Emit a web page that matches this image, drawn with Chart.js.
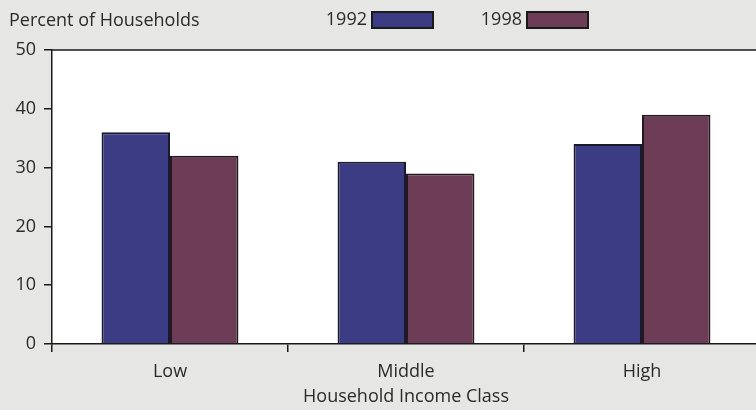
<!DOCTYPE html>
<html lang="en">
<head>
    <meta charset="UTF-8">
    <title>Household Income Class</title>
    <style>
        html, body {
            margin: 0;
            padding: 0;
            overflow: hidden;
            background-color: #e6e6e4;
        }
        #wrap {
            width: 766px;
            height: 410px;
        }
    </style>
    <script src="https://cdn.jsdelivr.net/npm/chart.js"></script>
</head>
<body>
    <div id="wrap"><canvas id="incomeChart" width="766" height="410"></canvas></div>
    <script>
        const categories = ['Low', 'Middle', 'High'];
        const values1992 = [36, 31, 34];
        const values1998 = [32, 29, 39];
        const seriesNames = ['1992', '1998'];
        const yTicks = [0, 10, 20, 30, 40, 50];

        const textColor = '#2a2a2a';
        const fontFamily = '"Open Sans", "DejaVu Sans", sans-serif';

        // gray page, white plot area, top border line, legend and y title
        const decor = {
            id: 'decor',
            beforeDraw(chart) {
                const ctx = chart.ctx;
                const a = chart.chartArea;
                ctx.save();
                ctx.fillStyle = '#e6e6e4';
                ctx.fillRect(0, 0, chart.width, chart.height);
                ctx.fillStyle = '#ffffff';
                ctx.fillRect(a.left, a.top, a.right - a.left, a.bottom - a.top);
                ctx.restore();
            },
            afterDraw(chart) {
                const ctx = chart.ctx;
                const a = chart.chartArea;
                ctx.save();
                ctx.strokeStyle = '#1a1a1a';
                ctx.lineWidth = 1.5;
                ctx.beginPath();
                ctx.moveTo(a.left, a.top);
                ctx.lineTo(chart.width, a.top);
                ctx.stroke();

                ctx.fillStyle = textColor;
                ctx.font = '18px ' + fontFamily;
                ctx.textBaseline = 'middle';
                ctx.textAlign = 'left';
                ctx.fillText('Percent of Households', 9, 21);

                const legendX = [372, 527];
                chart.data.datasets.forEach((ds, i) => {
                    const x = legendX[i];
                    ctx.fillStyle = textColor;
                    ctx.textAlign = 'right';
                    ctx.fillText(ds.label, x - 5, 20);
                    ctx.fillStyle = ds.backgroundColor;
                    ctx.fillRect(x, 12, 61, 16);
                    ctx.strokeStyle = '#1a1a1a';
                    ctx.lineWidth = 2;
                    ctx.strokeRect(x, 12, 61, 16);
                });
                ctx.restore();
            }
        };

        new Chart(document.getElementById('incomeChart'), {
            type: 'bar',
            data: {
                labels: categories,
                datasets: [{
                    label: seriesNames[0],
                    data: values1992,
                    backgroundColor: '#3b3c84',
                    borderColor: '#1a1a2e',
                    borderWidth: 2,
                    categoryPercentage: 0.58,
                    barPercentage: 1.0
                }, {
                    label: seriesNames[1],
                    data: values1998,
                    backgroundColor: '#6d3c57',
                    borderColor: '#241820',
                    borderWidth: 2,
                    categoryPercentage: 0.58,
                    barPercentage: 1.0
                }]
            },
            options: {
                responsive: false,
                animation: false,
                layout: {
                    padding: { left: 0, right: 6, top: 50, bottom: 0 }
                },
                plugins: {
                    legend: { display: false },
                    tooltip: { enabled: false }
                },
                scales: {
                    x: {
                        offset: true,
                        grid: {
                            offset: true,
                            drawOnChartArea: false,
                            tickLength: 8,
                            color: '#1a1a1a',
                            lineWidth: 1.5
                        },
                        border: { color: '#1a1a1a', width: 1.5 },
                        ticks: {
                            color: textColor,
                            font: { family: fontFamily, size: 18 },
                            padding: 9
                        },
                        title: {
                            display: true,
                            text: 'Household Income Class',
                            color: textColor,
                            font: { family: fontFamily, size: 18 },
                            padding: { top: 2, bottom: 2 }
                        },
                        afterFit(scale) { scale.height = 66; }
                    },
                    y: {
                        min: 0,
                        max: 50,
                        afterBuildTicks(scale) {
                            scale.ticks = yTicks.map(v => ({ value: v }));
                        },
                        grid: {
                            drawOnChartArea: false,
                            tickLength: 8,
                            color: '#1a1a1a',
                            lineWidth: 1.5
                        },
                        border: { color: '#1a1a1a', width: 1.5 },
                        ticks: {
                            color: textColor,
                            font: { family: fontFamily, size: 18 },
                            padding: 8
                        },
                        afterFit(scale) { scale.width = 52; }
                    }
                }
            },
            plugins: [decor]
        });
    </script>
</body>
</html>
